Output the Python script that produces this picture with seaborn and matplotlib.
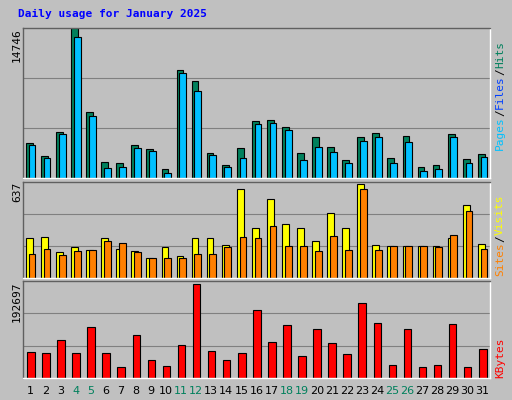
import numpy as np
import pandas as pd
import matplotlib
matplotlib.use("Agg")
import matplotlib.pyplot as plt
import seaborn as sns

days = list(range(1, 32))
hits = [3460, 2180, 4450, 14650, 6430, 1580, 1480, 3270, 2870, 890, 10590, 9500, 2470, 1290, 2970, 5540, 5640, 4950, 2470, 3960, 3070, 1780, 3960, 4350, 1980, 4150, 1090, 1290, 4250, 1880, 2370]
pages = [3270, 1980, 4250, 13750, 6040, 990, 1090, 2970, 2670, 500, 10290, 8510, 2280, 1090, 1980, 5240, 5340, 4650, 1780, 3070, 2570, 1480, 3660, 3960, 1480, 3560, 690, 890, 3960, 1480, 2080]
visits = [268, 275, 174, 208, 188, 268, 195, 181, 134, 208, 148, 268, 268, 221, 590, 329, 523, 355, 329, 248, 429, 335, 624, 221, 214, 214, 214, 214, 268, 482, 228]
sites = [161, 194, 154, 181, 188, 248, 235, 174, 134, 134, 134, 161, 161, 208, 275, 268, 342, 214, 214, 181, 282, 188, 590, 188, 214, 214, 214, 208, 288, 442, 194]
kbytes = [53870, 51800, 78740, 51800, 103540, 51800, 22800, 86990, 37300, 24870, 68380, 192697, 55940, 37300, 51800, 138760, 74600, 107690, 45580, 99400, 72530, 49730, 153270, 111830, 26940, 99400, 22800, 26940, 109760, 22800, 60080]
weekend = {4, 5, 11, 12, 18, 19, 25, 26}

W, H = 512, 400
BG = "#C0C0C0"
fig = plt.figure(figsize=(W/100, H/100), dpi=100, facecolor=BG)

def px_axes(x0, y0, x1, y1):
    return fig.add_axes([x0/W, 1 - y1/H, (x1-x0)/W, (y1-y0)/H])

panels = [(28, 178), (182, 278), (281, 378)]
X0, X1 = 23, 490
mono = "DejaVu Sans Mono"

def setup(ax, top):
    ax.set_facecolor(BG)
    ax.set_xlim(0.5, 31.5)
    ax.set_ylim(0, top)
    for s in ax.spines.values():
        s.set_linewidth(1)
    ax.spines["top"].set_color("#606060"); ax.spines["left"].set_color("#606060")
    ax.spines["bottom"].set_color("white"); ax.spines["right"].set_color("white")
    ax.set_yticks([top/3, 2*top/3])
    ax.yaxis.grid(True, color="#808080", lw=0.8)
    ax.set_axisbelow(True)
    ax.tick_params(left=False, bottom=False, labelleft=False, labelbottom=False)
    ax.set_xlabel(""); ax.set_ylabel("")

def bars(ax, vals, off, color, width=0.45):
    sns.barplot(x=np.array(days) + off, y=vals, native_scale=True, width=width,
                color=color, edgecolor="black", linewidth=0.8, saturation=1, ax=ax)

ax1 = px_axes(X0, panels[0][0], X1, panels[0][1])
bars(ax1, hits, -0.08, "#00805C")
bars(ax1, pages, 0.1, "#00C0FF")
setup(ax1, max(hits))

ax2 = px_axes(X0, panels[1][0], X1, panels[1][1])
bars(ax2, visits, -0.08, "#FFFF00")
bars(ax2, sites, 0.1, "#FF8000")
setup(ax2, max(visits) + 13)

ax3 = px_axes(X0, panels[2][0], X1, panels[2][1])
bars(ax3, kbytes, 0.02, "#FF0000", width=0.5)
setup(ax3, max(kbytes) * 1.03)
ax3.tick_params(labelbottom=True, pad=2)
ax3.set_xticks(days)
ax3.set_xticklabels([str(d) for d in days], fontsize=8)
for lbl, d in zip(ax3.get_xticklabels(), days):
    lbl.set_color("#00805C" if d in weekend else "black")

fig.text(18/W, 1 - 14/H, "Daily usage for January 2025", color="#0000FF",
         fontsize=8, fontweight="bold", family=mono, va="center")

for txt, ytop in [("14746", 28), ("637", 182), ("192697", 281)]:
    fig.text(17/W, 1 - ytop/H, txt, rotation=90, fontsize=8, family=mono,
             va="top", ha="center")

def right_label(parts, ybot):
    y = ybot
    for t, c in parts:
        fig.text(500/W, 1 - y/H, t, rotation=90, fontsize=8, family=mono,
                 color=c, va="bottom", ha="center")
        y -= len(t) * 6.8
right_label([("Pages", "#00C0FF"), ("/", "black"), ("Files", "#0040FF"), ("/", "black"), ("Hits", "#00805C")], 150)
right_label([("Sites", "#FF8000"), ("/", "black"), ("Visits", "#FFFF00")], 276)
right_label([("KBytes", "#FF0000")], 378)

fig.savefig("out.png", dpi=100, facecolor=BG)
